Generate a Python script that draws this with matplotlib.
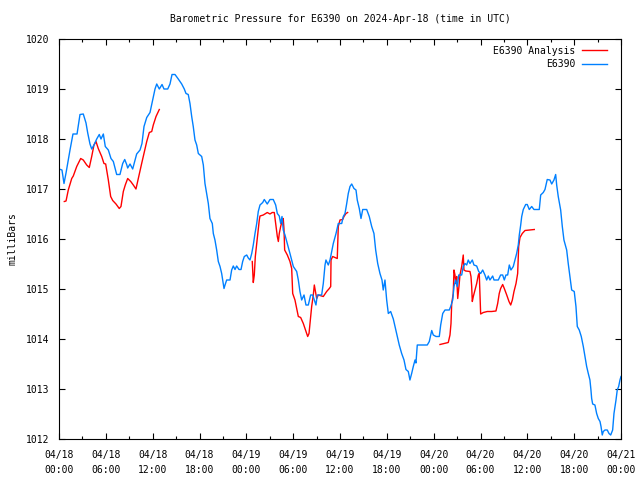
import numpy as np
import matplotlib
matplotlib.use('Agg')
import matplotlib.pyplot as plt

plt.rcParams.update({
    'font.family': 'DejaVu Sans Mono',
    'font.size': 7,
})

# hours since 2024-04-18 00:00 UTC, pressure in mbar
obs_hours = [
    0.00, 0.38, 0.64, 0.90, 1.41, 1.79, 2.31, 2.69, 3.11, 3.46, 3.68, 3.97, 4.19, 4.48, 4.83,
    5.16, 5.38, 5.68, 5.93, 6.32, 6.66, 6.96, 7.39, 7.81, 8.16, 8.42, 8.67, 8.80, 9.10, 9.44,
    9.95, 10.38, 10.63, 10.89, 11.24, 11.66, 11.91, 12.30, 12.52, 12.85, 13.20, 13.45, 13.93,
    14.22, 14.48, 14.86, 15.28, 15.72, 16.05, 16.27, 16.56, 16.78, 17.00, 17.20, 17.42, 17.64,
    17.85, 18.28, 18.49, 18.70, 19.13, 19.34, 19.64, 19.77, 19.98, 20.20, 20.41, 20.63, 20.84,
    20.97, 21.14, 21.27, 21.48, 21.91, 22.12, 22.33, 22.55, 22.76, 23.06, 23.32, 23.53, 23.74,
    24.05, 24.25, 24.47, 24.69, 24.89, 25.11, 25.33, 25.53, 25.75, 26.10, 26.30, 26.68, 27.03,
    27.45, 27.76, 27.97, 28.22, 28.40, 28.57, 28.73, 28.95, 29.25, 29.59, 30.02, 30.45, 30.66,
    30.87, 31.09, 31.39, 31.64, 31.94, 32.24, 32.50, 32.92, 33.09, 33.65, 33.86, 34.08, 34.20,
    34.50, 34.72, 34.94, 35.14, 35.49, 35.78, 36.22, 36.42, 36.64, 36.86, 37.06, 37.28, 37.50,
    37.79, 38.05, 38.21, 38.47, 38.69, 38.91, 39.42, 39.75, 40.06, 40.35, 40.57, 40.83, 41.12,
    41.38, 41.54, 41.76, 41.98, 42.19, 42.49, 42.83, 43.26, 43.59, 43.90, 44.20, 44.45, 44.75,
    44.96, 45.18, 45.39, 45.61, 45.73, 45.90, 47.18, 47.44, 47.75, 47.95, 48.30, 48.72, 48.90,
    49.16, 49.45, 50.00, 50.18, 50.44, 50.60, 50.82, 51.03, 51.21, 51.59, 51.79, 52.01, 52.23,
    52.43, 52.65, 52.95, 53.16, 53.51, 53.77, 54.02, 54.28, 54.57, 54.79, 55.00, 55.21, 55.56,
    55.73, 56.28, 56.58, 56.84, 57.05, 57.26, 57.48, 57.69, 57.90, 58.20, 58.42, 58.63, 58.84,
    58.97, 59.15, 59.28, 59.48, 59.79, 59.99, 60.25, 60.56, 60.85, 61.53, 61.71, 62.04, 62.26,
    62.55, 62.90, 63.12, 63.41, 63.63, 63.76, 63.96, 64.27, 64.48, 64.69, 65.04, 65.24, 65.46,
    65.68, 66.01, 66.23, 66.40, 66.65, 66.91, 67.17, 67.38, 67.60, 67.81, 68.02, 68.15, 68.24,
    68.37, 68.66, 68.88, 69.09, 69.31, 69.44, 69.60, 69.73, 69.95, 70.24, 70.46, 70.68, 70.93,
    71.10, 71.36, 71.52, 71.70, 71.87, 72.00,
]
obs_mb = [
    1017.40, 1017.38, 1017.11, 1017.32, 1017.78, 1018.10, 1018.10, 1018.49, 1018.50, 1018.32,
    1018.12, 1017.90, 1017.80, 1017.88, 1018.00, 1018.09, 1018.00, 1018.10, 1017.85, 1017.78,
    1017.61, 1017.55, 1017.29, 1017.29, 1017.51, 1017.59, 1017.49, 1017.42, 1017.50, 1017.40,
    1017.70, 1017.78, 1017.91, 1018.25, 1018.43, 1018.53, 1018.71, 1019.00, 1019.10, 1019.00,
    1019.09, 1019.00, 1019.00, 1019.10, 1019.29, 1019.29, 1019.20, 1019.10, 1019.00, 1018.91,
    1018.89, 1018.71, 1018.45, 1018.25, 1017.98, 1017.88, 1017.71, 1017.65, 1017.48, 1017.11,
    1016.71, 1016.41, 1016.31, 1016.11, 1015.98, 1015.78, 1015.55, 1015.45, 1015.31, 1015.18,
    1015.01, 1015.08, 1015.18, 1015.18, 1015.38, 1015.46, 1015.39, 1015.46, 1015.39, 1015.39,
    1015.55, 1015.65, 1015.68, 1015.62, 1015.58, 1015.71, 1015.88, 1016.11, 1016.31, 1016.55,
    1016.68, 1016.73, 1016.79, 1016.70, 1016.79, 1016.79, 1016.68, 1016.51, 1016.46, 1016.31,
    1016.45, 1016.18, 1016.08, 1015.91, 1015.71, 1015.45, 1015.35, 1015.18, 1014.95, 1014.78,
    1014.88, 1014.68, 1014.68, 1014.88, 1014.88, 1014.68, 1014.88, 1014.88, 1015.11, 1015.48,
    1015.58, 1015.48, 1015.58, 1015.75, 1015.91, 1016.11, 1016.31, 1016.31, 1016.45, 1016.51,
    1016.71, 1016.91, 1017.05, 1017.10, 1017.01, 1016.98, 1016.78, 1016.61, 1016.41, 1016.59,
    1016.59, 1016.45, 1016.25, 1016.11, 1015.78, 1015.51, 1015.31, 1015.18, 1014.98, 1015.18,
    1014.78, 1014.51, 1014.55, 1014.40, 1014.11, 1013.88, 1013.71, 1013.58, 1013.39, 1013.35,
    1013.18, 1013.31, 1013.45, 1013.58, 1013.52, 1013.88, 1013.88, 1013.95, 1014.17, 1014.08,
    1014.05, 1014.05, 1014.28, 1014.51, 1014.58, 1014.58, 1014.65, 1014.78, 1015.05, 1015.18,
    1015.05, 1015.28, 1015.28, 1015.45, 1015.51, 1015.48, 1015.58, 1015.51, 1015.58, 1015.48,
    1015.46, 1015.35, 1015.31, 1015.38, 1015.28, 1015.18, 1015.26, 1015.18, 1015.26, 1015.18,
    1015.18, 1015.28, 1015.28, 1015.18, 1015.28, 1015.28, 1015.48, 1015.38, 1015.45, 1015.58,
    1015.71, 1015.88, 1016.08, 1016.28, 1016.45, 1016.59, 1016.69, 1016.69, 1016.59, 1016.65,
    1016.59, 1016.59, 1016.88, 1016.93, 1016.99, 1017.19, 1017.18, 1017.10, 1017.18, 1017.29,
    1017.08, 1016.85, 1016.58, 1016.25, 1015.98, 1015.78, 1015.51, 1015.25, 1014.98, 1014.95,
    1014.65, 1014.25, 1014.18, 1014.05, 1013.85, 1013.65, 1013.45, 1013.31, 1013.18, 1012.98,
    1012.81, 1012.70, 1012.68, 1012.51, 1012.41, 1012.35, 1012.25, 1012.08, 1012.15, 1012.18,
    1012.18, 1012.11, 1012.08, 1012.18, 1012.51, 1012.78, 1012.98, 1013.05, 1013.18, 1013.25,
]

# analysis comes in three separate runs (nan = gap)
ana_hours = [
    0.68, 0.90, 1.19, 1.63, 1.83, 2.27, 2.78, 3.11, 3.55, 3.88, 4.19, 4.48, 4.74, 5.03, 5.47,
    5.76, 5.98, 6.32, 6.62, 6.88, 7.30, 7.72, 7.94, 8.24, 8.49, 8.80, 9.19, 9.52, 9.86, 10.16,
    10.59, 10.89, 11.24, 11.57, 11.88, 12.08, 12.43, 12.85,
    np.nan,
    24.76, 24.89, 25.02, 25.15, 25.33, 25.53, 25.66, 25.75, 26.17, 26.68, 27.03, 27.32, 27.58,
    27.76, 27.97, 28.10, 28.22, 28.40, 28.61, 28.73, 28.82, 28.91, 29.25, 29.59, 29.81, 29.94,
    30.23, 30.66, 30.96, 31.30, 31.64, 31.86, 32.03, 32.16, 32.37, 32.58, 32.71, 32.89, 33.01,
    33.22, 33.86, 34.29, 34.63, 34.81, 34.85, 35.06, 35.65, 35.78, 36.00, 36.34, 36.51, 36.77,
    36.98,
    np.nan,
    48.81, 49.32, 49.87, 50.09, 50.22, 50.31, 50.51, 50.60, 50.73, 50.82, 50.95, 51.08, 51.24,
    51.37, 51.59, 51.72, 51.79, 51.88, 52.10, 52.65, 52.78, 52.87, 52.95, 53.08, 53.30, 53.51,
    53.72, 53.84, 53.93, 54.02, 54.36, 54.87, 55.43, 55.98, 56.20, 56.40, 56.58, 56.84, 57.05,
    57.36, 57.65, 57.87, 58.08, 58.29, 58.55, 58.76, 58.89, 59.06, 59.35, 59.70, 60.34, 60.89,
]
ana_mb = [
    1016.75, 1016.76, 1016.98, 1017.21, 1017.26, 1017.45, 1017.61, 1017.58, 1017.48, 1017.43,
    1017.65, 1017.88, 1017.95, 1017.81, 1017.65, 1017.51, 1017.50, 1017.18, 1016.85, 1016.77,
    1016.70, 1016.61, 1016.65, 1016.95, 1017.08, 1017.21, 1017.15, 1017.08, 1017.00, 1017.21,
    1017.51, 1017.71, 1017.95, 1018.13, 1018.15, 1018.28, 1018.45, 1018.59,
    np.nan,
    1015.55, 1015.13, 1015.28, 1015.65, 1015.91, 1016.18, 1016.38, 1016.46, 1016.48, 1016.53,
    1016.50, 1016.53, 1016.53, 1016.31, 1016.05, 1015.95, 1016.11, 1016.25, 1016.38, 1016.41,
    1016.21, 1015.78, 1015.68, 1015.55, 1015.41, 1014.91, 1014.78, 1014.45, 1014.43, 1014.31,
    1014.15, 1014.05, 1014.11, 1014.31, 1014.65, 1014.88, 1015.08, 1014.91, 1014.81, 1014.88,
    1014.85, 1014.95, 1015.01, 1015.05, 1015.58, 1015.65, 1015.61, 1016.25, 1016.38, 1016.39,
    1016.45, 1016.51, 1016.53,
    np.nan,
    1013.89, 1013.91, 1013.93, 1014.08, 1014.31, 1014.71, 1014.91, 1015.38, 1015.28, 1015.11,
    1015.25, 1014.81, 1015.05, 1015.28, 1015.45, 1015.61, 1015.68, 1015.38, 1015.36, 1015.35,
    1015.25, 1015.05, 1014.75, 1014.85, 1014.98, 1015.11, 1015.28, 1015.31, 1014.92, 1014.50,
    1014.53, 1014.55, 1014.55, 1014.56, 1014.71, 1014.91, 1015.01, 1015.09, 1015.01, 1014.88,
    1014.75, 1014.68, 1014.78, 1014.95, 1015.11, 1015.31, 1015.85, 1016.03, 1016.11, 1016.17,
    1016.18, 1016.19,
]

day_labels = ['04/18', '04/18', '04/18', '04/18', '04/19', '04/19', '04/19', '04/19',
              '04/20', '04/20', '04/20', '04/20', '04/21']
hour_labels = ['00:00', '06:00', '12:00', '18:00'] * 3 + ['00:00']

fig = plt.figure(figsize=(6.4, 4.8), dpi=100)
ax = fig.add_axes([59 / 640, 41 / 480, 562 / 640, 400 / 480])

ax.plot(ana_hours, ana_mb, color='#ff0000', lw=1.0, label='E6390 Analysis')
ax.plot(obs_hours, obs_mb, color='#0080ff', lw=1.0, label='E6390')

ax.set_xlim(0, 72)
ax.set_ylim(1012, 1020)
ax.set_xticks(np.arange(0, 73, 6))
ax.set_xticklabels([d + '\n' + h for d, h in zip(day_labels, hour_labels)], linespacing=1.55)
ax.set_xticks(np.arange(0, 73, 3), minor=True)
ax.set_yticks(np.arange(1012, 1021, 1))
ax.tick_params(which='both', direction='in', top=True, right=True, width=0.8)
ax.tick_params(which='major', length=4.5)
ax.tick_params(which='minor', length=2.5)
ax.tick_params(axis='x', pad=8)
ax.tick_params(axis='y', pad=7)
for s in ax.spines.values():
    s.set_linewidth(0.8)

ax.set_title('Barometric Pressure for E6390 on 2024-Apr-18 (time in UTC)', fontsize=7, pad=12)
ax.set_ylabel('milliBars', labelpad=6)

ax.legend(loc='upper right', bbox_to_anchor=(0.9875, 1.0), frameon=False, markerfirst=False,
          handlelength=2.6, borderaxespad=0.5, labelspacing=0.35, handletextpad=0.7,
          borderpad=0.2)

fig.savefig('out.png', dpi=100)
